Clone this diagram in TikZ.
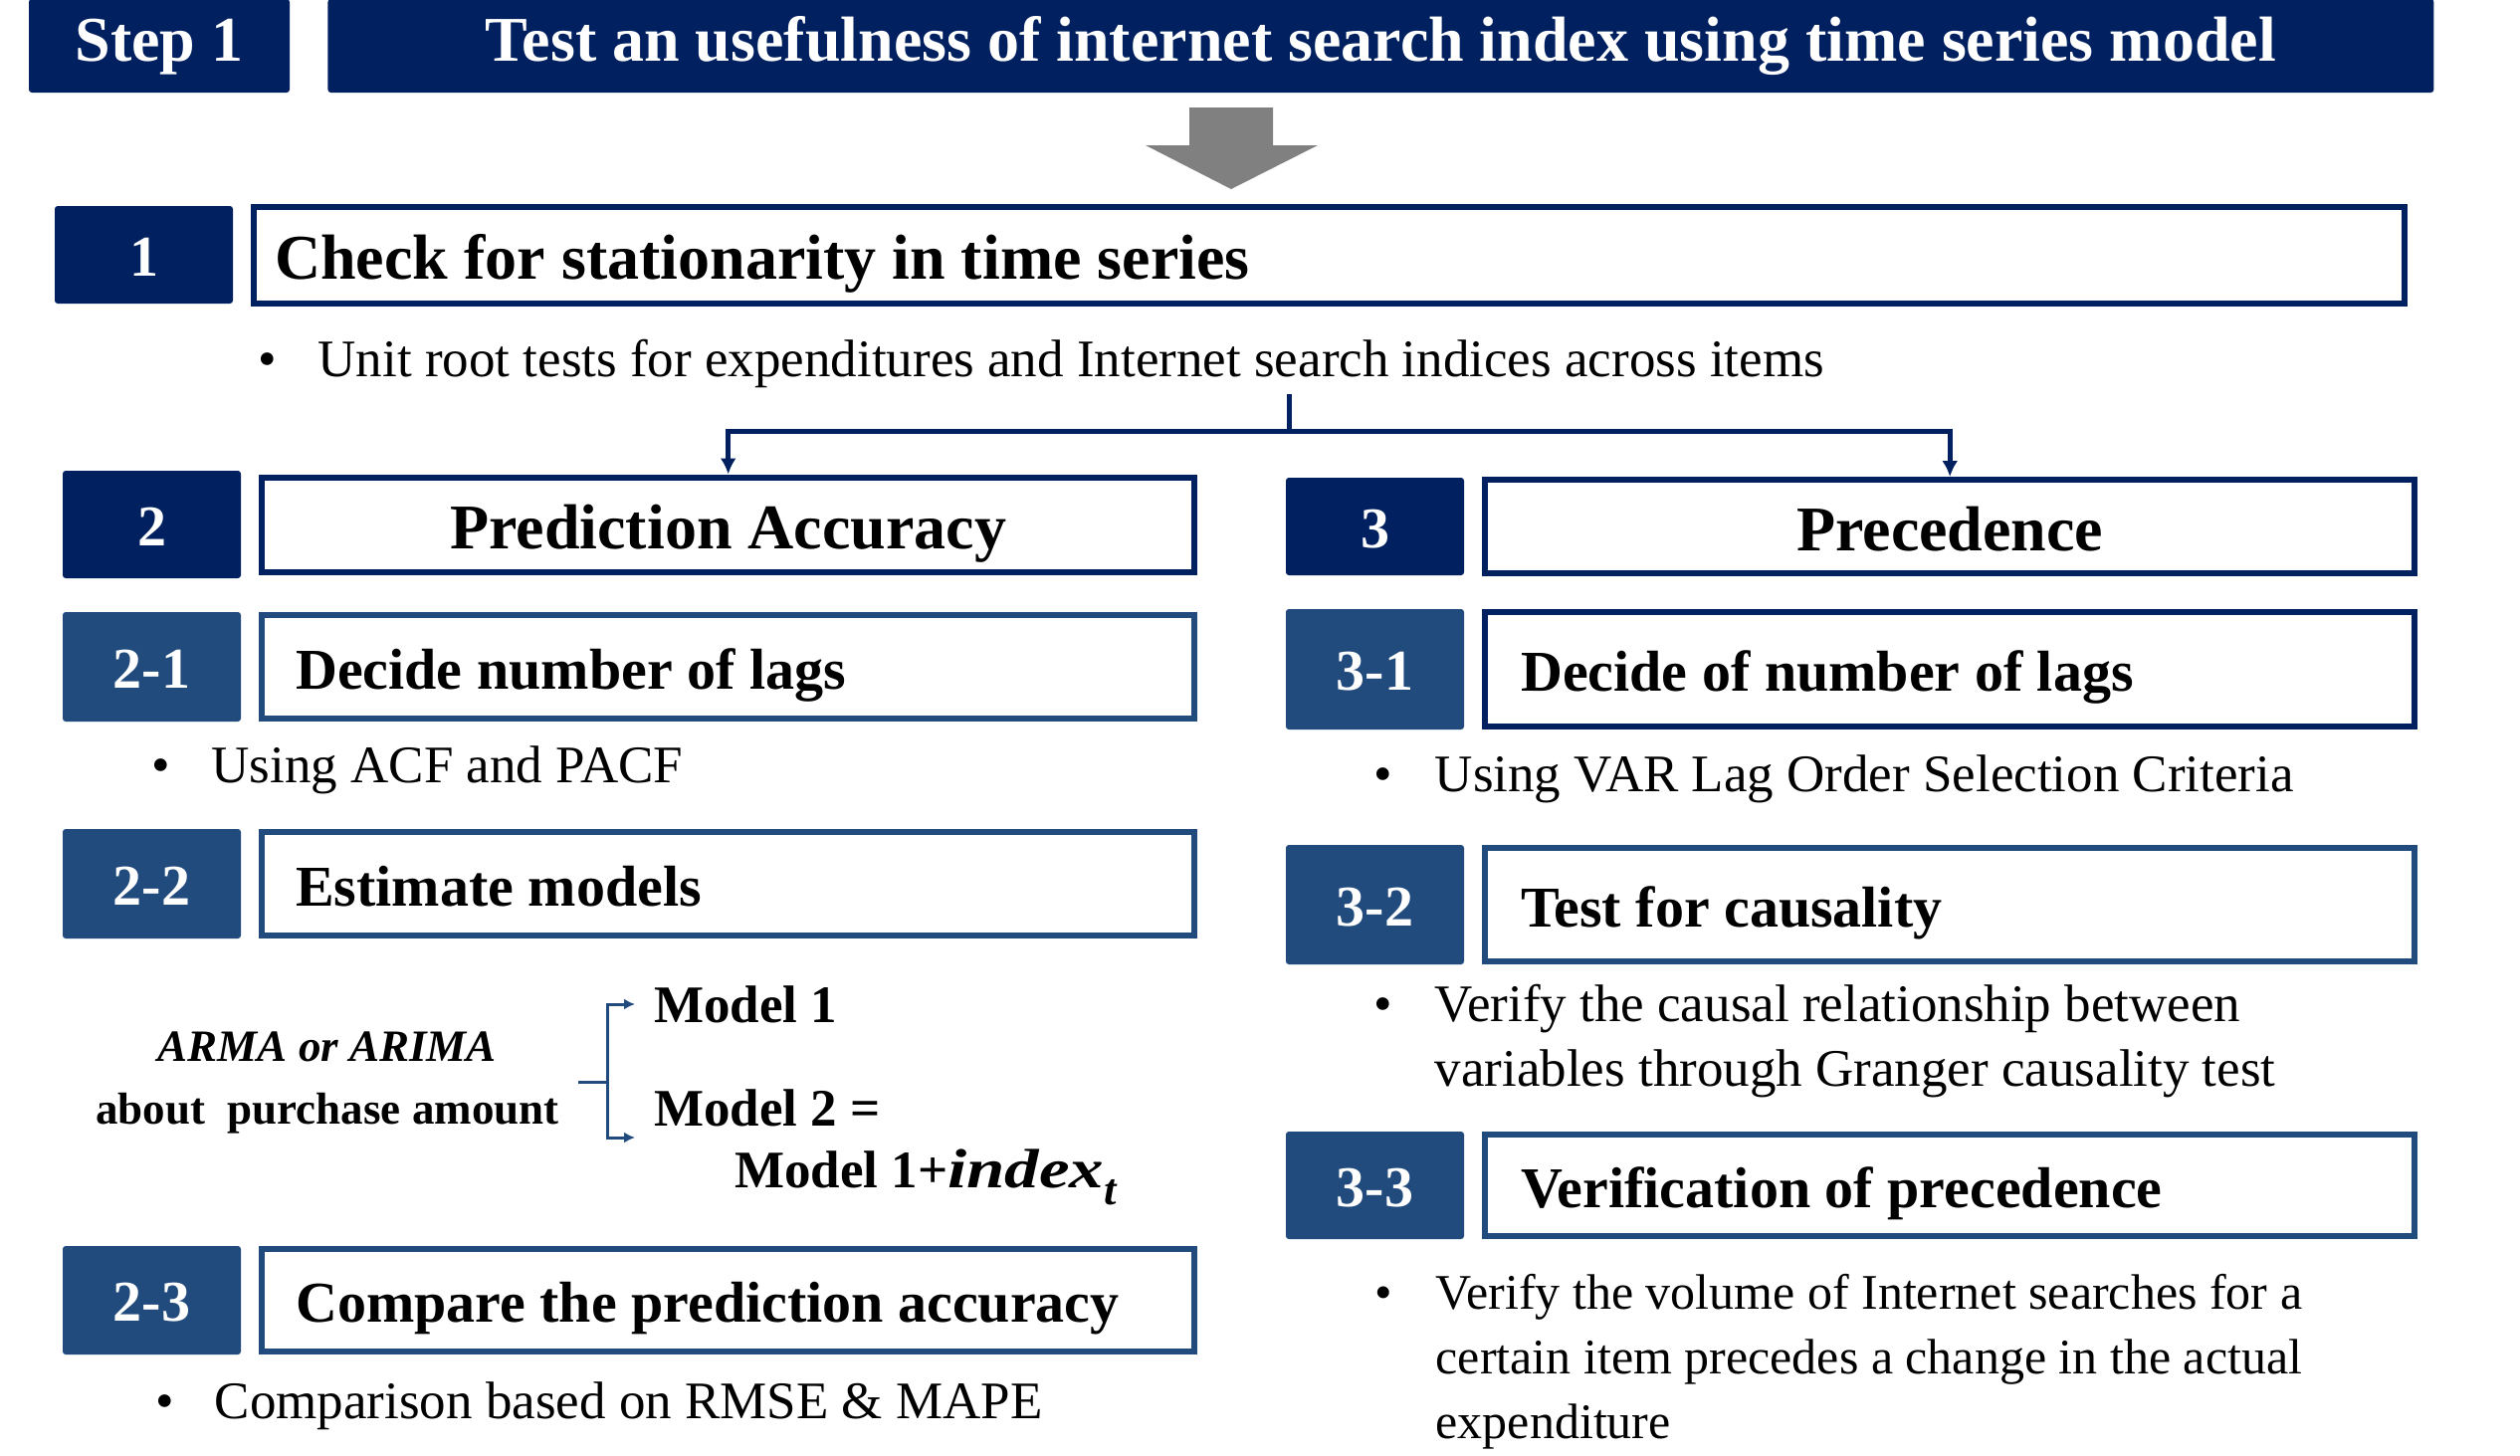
\documentclass[tikz,border=0pt]{standalone}
\usepackage{fontspec}
\setmainfont{Liberation Serif}
\usetikzlibrary{positioning, arrows.meta}
\definecolor{navy}{RGB}{0,32,96}
\definecolor{subblue}{RGB}{33,74,125}
\definecolor{arrowgray}{RGB}{128,128,128}

\begin{document}
\begin{tikzpicture}[
    x=1pt, y=-1pt,
    node distance=18pt,
    numbox/.style={rectangle, fill=navy, text=white, rounded corners=3pt, minimum width=179pt, inner sep=0pt, text height=42pt, text depth=0pt, font=\fontsize{58}{70}\selectfont\bfseries},
    subnum/.style={numbox, fill=subblue},
    headbox/.style={rectangle, draw=navy, line width=6pt, fill=white, inner ysep=0pt, inner xsep=0pt, text height=48.6pt, text depth=0pt, font=\fontsize{64}{76}\selectfont\bfseries},
    subhead/.style={headbox, draw=subblue, text height=44pt, font=\fontsize{58}{70}\selectfont\bfseries},
    leftlab/.style={inner xsep=34pt, text width=869pt, align=flush left},
    rightlab/.style={inner xsep=36pt, text width=862pt, align=flush left},
    note/.style={anchor=west, align=left, inner sep=0pt, font=\fontsize{53}{65}\selectfont},
    model/.style={anchor=west, inner sep=0pt, font=\fontsize{53}{65}\selectfont\bfseries},
    link/.style={draw=navy, line width=5pt, -{Latex[length=16pt,width=16pt]}},
    fork/.style={draw=subblue, line width=3pt, -{Latex[length=11pt,width=11pt]}}
]
\useasboundingbox (0,0) rectangle (2532,1462);

% Step header
\node[numbox, minimum width=262pt, minimum height=94pt, text height=30pt, font=\fontsize{64}{76}\selectfont\bfseries] (step) at (160,46) {Step 1};
\node[numbox, minimum width=2116pt, minimum height=94pt, text height=30pt, font=\fontsize{64}{76}\selectfont\bfseries, right=38pt of step] (title) {Test an usefulness of internet search index using time series model};
\fill[arrowgray] (1195,108) -- (1279,108) -- (1279,146) -- (1324,146) -- (1237,190) -- (1151,146) -- (1195,146) -- cycle;

% Stationarity
\node[numbox, minimum height=98pt] (n1) at (144.5,256) {1};
\node[headbox, minimum height=97pt, inner xsep=21pt, text width=2119pt, align=flush left, right=18pt of n1] (h1) {Check for stationarity in time series};
\node[note] (b1) at (259,365) {\textbullet\hspace{42pt}Unit root tests for expenditures and Internet search indices across items};
\coordinate (split) at (1295,396);

% Prediction accuracy
\node[numbox, minimum height=108pt] (n2) at (152.5,527) {2};
\node[headbox, minimum width=937pt, minimum height=95pt, right=18pt of n2] (h2) {Prediction Accuracy};
\node[subnum, minimum height=110pt] (n21) at (152.5,670) {2-1};
\node[subhead, leftlab, minimum height=104pt, right=18pt of n21] (h21) {Decide number of lags};
\node[note] (b21) at (152,774) {\textbullet\hspace{42pt}Using ACF and PACF};
\node[subnum, minimum height=110pt] (n22) at (152.5,888) {2-2};
\node[subhead, leftlab, minimum height=104pt, right=18pt of n22] (h22) {Estimate models};
\node[align=center, inner sep=0pt, font=\fontsize{45}{63}\selectfont\bfseries] (arma) at (329,1088) {\textit{ARMA or ARIMA}\\about\ \ purchase amount};
\coordinate (stub) at (581,1087);
\coordinate (fork) at (610,1087);
\node[model] (m1) at (657,1009) {Model 1};
\node[model] (m2) at (657,1113) {Model 2 =};
\coordinate (m2in) at (657,1143);
\node[model] (m2b) at (738,1183) {Model 1+\textit{\scalebox{1.3}[1.05]{index}}\textsubscript{\textit{\scalebox{1.2}{t}}}};
\node[subnum, minimum height=109pt] (n23) at (152.5,1306.5) {2-3};
\node[subhead, leftlab, minimum height=103pt, right=18pt of n23] (h23) {Compare the prediction accuracy};
\node[note] (b23) at (156,1413) {\textbullet\hspace{41pt}Comparison based on RMSE \& MAPE};

% Precedence
\node[numbox, minimum height=98pt] (n3) at (1381.5,529) {3};
\node[headbox, minimum width=934pt, minimum height=94pt, right=18pt of n3] (h3) {Precedence};
\node[subnum, minimum height=121pt] (n31) at (1381.5,672.5) {3-1};
\node[subhead, draw=navy, rightlab, minimum height=115pt, right=18pt of n31] (h31) {Decide of number of lags};
\node[note] (b31) at (1380,783) {\textbullet\hspace{43pt}Using VAR Lag Order Selection Criteria};
\node[subnum, minimum height=120pt] (n32) at (1381.5,909) {3-2};
\node[subhead, rightlab, minimum height=114pt, right=18pt of n32] (h32) {Test for causality};
\node[note] (b32) at (1380,1046.5) {\textbullet\hspace{43pt}Verify the causal relationship between\\\hspace*{61.5pt}variables through Granger causality test};
\node[subnum, minimum height=108pt] (n33) at (1381.5,1191) {3-3};
\node[subhead, rightlab, minimum height=102pt, right=18pt of n33] (h33) {Verification of precedence};
\node[note, font=\fontsize{50}{65}\selectfont] (b33) at (1381,1368) {\textbullet\hspace{44pt}Verify the volume of Internet searches for a\\\hspace*{61.5pt}certain item precedes a change in the actual\\\hspace*{61.5pt}expenditure};

% Paths
\path[link] (split) -- ++(0,37) -| (h2);
\path[link] (split) -- ++(0,37) -| (h3);
\draw[subblue, line width=3pt] (stub) -- (fork);
\path[fork, shorten >=19pt] (fork) |- (m1);
\path[fork, shorten >=19pt] (fork) |- (m2in);

\end{tikzpicture}
\end{document}
